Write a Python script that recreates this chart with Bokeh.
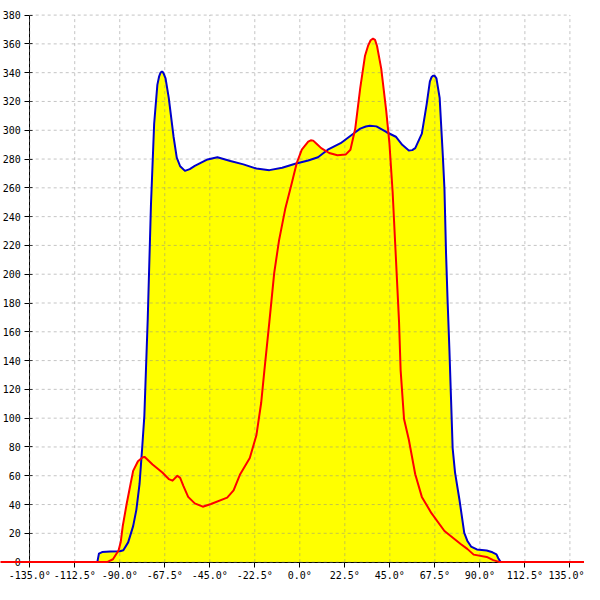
from bokeh.plotting import figure
from bokeh.models import Range1d, FixedTicker
from bokeh.embed import file_html
from bokeh.resources import INLINE

# ---- data ----
blue_x = [-101.2, -100.4, -98.8, -94.7, -89.9, -88.2, -85.8, -83.3, -81.7, -80.1, -78.8,
          -77.7, -76.0, -74.4, -72.8, -71.2, -70.3, -69.6, -69.1, -68.6, -68.1, -67.1, -65.5, -63.1,
          -61.5, -59.8, -57.4, -55.0, -52.5, -46.1, -41.2, -34.7, -28.2, -21.7, -15.2,
          -8.8, -2.3, 4.2, 9.1, 14.0, 20.4, 26.9, 30.2, 33.0, 35.0, 38.3, 43.2, 48.0, 51.2,
          54.5, 56.2, 57.7, 61.0, 63.4, 65.0, 65.8, 66.6, 67.4, 68.3, 69.9, 71.5, 72.3, 73.1, 73.9, 74.8,
          75.6, 76.4, 77.6, 79.8, 82.2, 83.7, 85.6, 88.5, 93.4, 96.3, 98.3, 99.2, 100.4]
blue_y = [0, 5.9, 7.0, 7.4, 7.6, 8.3, 13.7, 25, 36.3, 54.3, 79.1,
          101.6, 169.2, 248.1, 304.5, 331.5, 337.5, 340, 340.6, 340.6, 339.5, 336, 322.5, 295.5,
          281, 275, 271.8, 273, 275.2, 279.7, 281.3, 278.6, 276.3, 273.4, 272.3,
          274, 276.7, 279, 281.3, 286.5, 291, 297.7, 301.1, 302.6, 303.1, 302.7, 298.8, 295.5, 289.9,
          286, 286.2, 287.6, 297.7, 318, 333.8, 336.8, 337.9, 337.8, 336, 322.5, 282, 259.4, 214.3, 180.5, 146.7,
          112.9, 79.1, 62.2, 43.3, 20.3, 14.9, 10.8, 8.8, 8.1, 6.8, 5.4, 2.7, 0]

red_x = [-150, -96.3, -93.4, -90.6, -89.5, -88.5, -86.6, -84.5, -83.3, -80.9, -78.5, -77.5,
         -73.6, -68.7, -65.5, -63.6, -61.2, -59.8, -58.2, -55.8, -52.5, -48.5, -44.4,
         -36.3, -33.1, -29.8, -25.0, -21.7, -19.3, -17.7, -15.2, -12.8, -10.4, -7.2, -3.9,
         -1.5, 1.0, 4.2, 5.5, 6.7, 8.5, 10.7, 14.7, 18.8, 22.9, 25.3, 27.7, 30.2, 32.6, 34.2, 35.4, 36.6,
         37.6, 38.6, 40.7, 43.2, 44.8, 46.4, 48.0, 49.6, 50.4, 52.1, 54.5, 57.7, 61.0, 65.8,
         72.3, 80.4, 83.7, 86.9, 93.4, 96.7, 99.9, 150]
red_y = [0, 0, 2, 8.1, 14, 25, 40, 55, 63.4, 70.1, 72.8, 73,
         67.8, 62.2, 57.7, 56.6, 60, 58.5, 53, 45.3, 40.8, 38.5, 40.4,
         44.8, 49.8, 61.1, 72.3, 88.1, 110.7, 133.2, 167, 200.8, 223.3, 245.9, 263.9,
         277.4, 286.5, 292.1, 293, 292.8, 290.5, 287.6, 284.2, 282.6, 283.1, 286.5, 301, 329.3, 351.8, 359, 362.5, 363.6,
         362.8, 358.5, 342.8, 313.5, 290.9, 257.1, 212.1, 167, 133.2, 99.4, 85, 61, 45.3, 34,
         21.6, 12.6, 9.2, 5.2, 3.6, 1.4, 0, 0]

x_ticks = [-135.0, -112.5, -90.0, -67.5, -45.0, -22.5, 0.0, 22.5, 45.0, 67.5, 90.0, 112.5, 135.0]
x_labels = ["-135.0°", "-112.5°", "-90.0°", "-67.5°", "-45.0°", "-22.5°", "0.0°",
            "22.5°", "45.0°", "67.5°", "90.0°", "112.5°", "135.0°"]
y_ticks = [0, 20, 40, 60, 80, 100, 120, 140, 160, 180, 200, 220, 240, 260, 280, 300,
           320, 340, 360, 380]
y_labels = [str(v) for v in y_ticks]

FONT = "DejaVu Sans Mono"

p = figure(width=584, height=584, output_backend="svg", toolbar_location=None,
           x_range=Range1d(-149.6, 142.3), y_range=Range1d(-15.55, 390.14),
           min_border=0, outline_line_color=None)
p.xgrid.visible = False
p.ygrid.visible = False

# fills
p.varea(x=blue_x, y1=0, y2=blue_y, fill_color="#ffff00")
p.varea(x=red_x, y1=0, y2=red_y, fill_color="#ffff00")

# grid (limited to the axes extent)
n = len(x_ticks)
p.segment(x0=x_ticks, y0=[min(y_ticks)] * n, x1=x_ticks, y1=[max(y_ticks)] * n,
          line_color="#8c8c8c", line_alpha=0.5, line_width=1, line_dash="3 3")
m = len(y_ticks)
p.segment(x0=[min(x_ticks)] * m, y0=y_ticks, x1=[max(x_ticks)] * m, y1=y_ticks,
          line_color="#8c8c8c", line_alpha=0.5, line_width=1, line_dash="3 3")

# lines
p.line(blue_x, blue_y, line_color="#0000cc", line_width=2, line_join="round")
p.line(red_x, red_y, line_color="#ff0000", line_width=2, line_join="round")

# axes
for ax in p.xaxis:
    ax.fixed_location = 0
    ax.ticker = FixedTicker(ticks=x_ticks)
    ax.major_label_overrides = {t: l for t, l in zip(x_ticks, x_labels)}
    ax.bounds = (min(x_ticks), max(x_ticks))
    ax.major_tick_in = 0
    ax.major_tick_out = 5
    ax.minor_tick_line_color = None
    ax.axis_line_color = "black"
    ax.major_label_text_font = FONT
    ax.major_label_text_font_size = "10px"
    ax.major_label_text_color = "black"
    ax.major_label_standoff = 3
    ax.level = "underlay"
for ax in p.yaxis:
    ax.fixed_location = -135
    ax.ticker = FixedTicker(ticks=y_ticks)
    ax.major_label_overrides = {t: l for t, l in zip(y_ticks, y_labels)}
    ax.bounds = (min(y_ticks), max(y_ticks))
    ax.major_tick_in = 3
    ax.major_tick_out = 5
    ax.minor_tick_line_color = None
    ax.axis_line_color = "black"
    ax.major_label_text_font = FONT
    ax.major_label_text_font_size = "10px"
    ax.major_label_text_color = "black"
    ax.major_label_standoff = 4
    ax.level = "underlay"

open("out.html", "w").write(file_html(p, INLINE))
